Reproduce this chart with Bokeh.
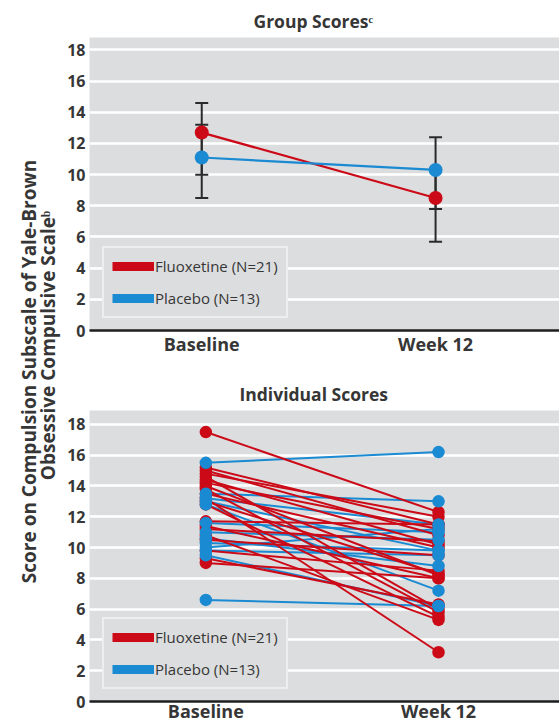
import math
from bokeh.plotting import figure
from bokeh.models import (ColumnDataSource, Whisker, TeeHead, Legend, LegendItem,
                          FixedTicker, Label, Range1d)
from bokeh.layouts import row, column
from bokeh.embed import file_html
from bokeh.resources import INLINE

# ---------------- data ----------------
categories = ["Baseline", "Week 12"]
time_points = [0, 1]
y_ticks = [0, 2, 4, 6, 8, 10, 12, 14, 16, 18]
group_labels = ["Fluoxetine (N=21)", "Placebo (N=13)"]

fluox_mean = [12.7, 8.5]
fluox_lower = [10.0, 5.7]
fluox_upper = [14.6, 10.4]
placebo_mean = [11.1, 10.3]
placebo_lower = [8.5, 7.8]
placebo_upper = [13.2, 12.4]

fluox_baseline = [17.5, 15.2, 15.0, 14.8, 14.6, 14.4, 14.2, 14.0, 13.8, 13.5, 13.2,
                  13.0, 12.8, 11.7, 11.4, 11.2, 10.8, 10.5, 9.8, 9.3, 9.0]
fluox_week12 = [12.3, 11.5, 10.8, 12.0, 6.0, 10.2, 11.2, 8.2, 5.8, 10.0, 3.2,
                8.3, 5.5, 11.5, 8.0, 10.4, 5.3, 9.5, 8.5, 6.3, 8.0]
placebo_baseline = [15.5, 13.5, 13.2, 13.0, 12.8, 11.6, 11.0, 10.6, 10.3, 10.0, 9.8, 9.5, 6.6]
placebo_week12 = [16.2, 13.0, 11.5, 9.8, 7.2, 11.0, 10.5, 8.8, 9.8, 11.2, 9.5, 6.2, 6.2]

y_label_lines = ["Score on Compulsion Subscale of Yale-Brown",
                 "Obsessive Compulsive Scale\u1d47"]

# ---------------- style ----------------
RED = "#cc0a17"
BLUE = "#1a8ad2"
BG = "#dcdddf"
TXT = "#363636"
FONT = "Open Sans"
LEFT_W = 64
PLOT_W = 559 - LEFT_W


def make_fig(title, title_offset, height, border_top, border_bottom, xr, ytop, standoff):
    p = figure(width=PLOT_W, height=height, x_range=Range1d(*xr), y_range=Range1d(0, ytop),
               output_backend="svg", toolbar_location=None,
               min_border_left=87 - LEFT_W, min_border_right=0,
               min_border_top=border_top, min_border_bottom=border_bottom,
               background_fill_color=BG, border_fill_color="white",
               outline_line_color=None, title=title)
    p.title.text_font = FONT
    p.title.text_font_size = "17.5px"
    p.title.text_font_style = "bold"
    p.title.text_color = TXT
    p.title.align = "left"
    p.title.offset = title_offset
    p.xgrid.visible = False
    p.ygrid.ticker = FixedTicker(ticks=y_ticks)
    p.ygrid.grid_line_color = "white"
    p.ygrid.grid_line_width = 2.5
    xa = p.xaxis[0]
    xa.ticker = FixedTicker(ticks=time_points)
    xa.major_label_overrides = {t: c for t, c in zip(time_points, categories)}
    xa.axis_line_color = "#1e1e1e"
    xa.axis_line_width = 2.5
    xa.major_tick_line_color = None
    xa.minor_tick_line_color = None
    xa.major_tick_out = 0
    xa.major_label_standoff = standoff
    xa.major_label_text_font = FONT
    xa.major_label_text_font_size = "18px"
    xa.major_label_text_font_style = "bold"
    xa.major_label_text_color = TXT
    ya = p.yaxis[0]
    ya.ticker = FixedTicker(ticks=y_ticks)
    ya.axis_line_color = None
    ya.major_tick_line_color = None
    ya.minor_tick_line_color = None
    ya.major_tick_out = 0
    ya.major_label_standoff = 4
    ya.major_label_text_font = FONT
    ya.major_label_text_font_size = "16px"
    ya.major_label_text_font_style = "bold"
    ya.major_label_text_color = TXT
    return p


def add_legend(p, red_y, blue_y):
    # hidden renderers, only used to draw the thick legend swatches
    r_red = p.line(time_points, red_y, line_color=RED, line_width=9, visible=False)
    r_blue = p.line(time_points, blue_y, line_color=BLUE, line_width=9, visible=False)
    leg = Legend(items=[LegendItem(label=group_labels[0], renderers=[r_red]),
                        LegendItem(label=group_labels[1], renderers=[r_blue])],
                 location=(13, 12), orientation="vertical", click_policy="none",
                 background_fill_color=BG, background_fill_alpha=1.0,
                 border_line_color="white", border_line_width=2,
                 glyph_width=42, glyph_height=20, label_height=20,
                 label_standoff=1, spacing=12, padding=8, margin=0,
                 label_text_font=FONT, label_text_font_size="15px",
                 label_text_color=TXT)
    p.add_layout(leg, "center")


# ---------------- top: group scores ----------------
p1 = make_fig("Group Scores\u1d9c", 164, 362, 37, 32, (-0.48, 1.53), 18.8, 1)
for lo, hi in [(fluox_lower, fluox_upper), (placebo_lower, placebo_upper)]:
    src = ColumnDataSource(dict(x=time_points, lower=lo, upper=hi))
    w = Whisker(base="x", lower="lower", upper="upper", source=src,
                line_color="#2a2a2a", line_width=2,
                upper_head=TeeHead(size=13, line_color="#2a2a2a", line_width=2),
                lower_head=TeeHead(size=13, line_color="#2a2a2a", line_width=2),
                level="underlay")
    p1.add_layout(w)

p1.line(time_points, fluox_mean, line_color=RED, line_width=2.2)
p1.scatter(time_points, fluox_mean, size=14, fill_color=RED, line_color=None)
p1.line(time_points, placebo_mean, line_color=BLUE, line_width=2.2)
p1.scatter(time_points, placebo_mean, size=14, fill_color=BLUE, line_color=None)
add_legend(p1, fluox_mean, placebo_mean)

# ---------------- bottom: individual scores ----------------
p2 = make_fig("Individual Scores", 150, 363, 48, 20, (-0.5, 1.52), 18.9, -3)

p2.multi_line(xs=[time_points for _ in placebo_baseline],
              ys=[[b, w] for b, w in zip(placebo_baseline, placebo_week12)],
              line_color=BLUE, line_width=2)
p2.multi_line(xs=[time_points for _ in fluox_baseline],
              ys=[[b, w] for b, w in zip(fluox_baseline, fluox_week12)],
              line_color=RED, line_width=2)
p2.scatter([time_points[0]] * len(fluox_baseline) + [time_points[1]] * len(fluox_week12),
           fluox_baseline + fluox_week12, size=12.5, fill_color=RED, line_color=None)
p2.scatter([time_points[0]] * len(placebo_baseline) + [time_points[1]] * len(placebo_week12),
           placebo_baseline + placebo_week12, size=12.5, fill_color=BLUE, line_color=None)
add_legend(p2, fluox_mean, placebo_mean)

# ---------------- shared y label ----------------
lf = figure(width=LEFT_W, height=725, x_range=Range1d(0, 1), y_range=Range1d(0, 1),
            output_backend="svg", toolbar_location=None, min_border=0,
            min_border_left=0, min_border_right=0, min_border_top=0, min_border_bottom=0,
            outline_line_color=None, background_fill_color="white")
lf.axis.visible = False
lf.grid.visible = False
for xs, ys, txt in [(28, 354, y_label_lines[0]), (47, 380, y_label_lines[1])]:
    lf.add_layout(Label(x=xs, y=ys, x_units="screen", y_units="screen", text=txt,
                        angle=math.pi / 2, text_align="center", text_baseline="middle",
                        text_font=FONT, text_font_size="19px", text_font_style="bold",
                        text_color=TXT))

layout = row(lf, column(p1, p2))
open("out.html", "w").write(file_html(layout, INLINE))
